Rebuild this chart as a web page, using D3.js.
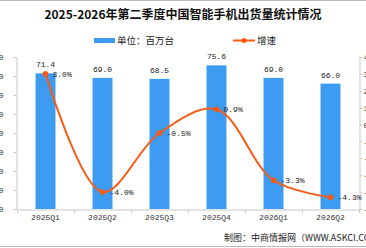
<!DOCTYPE html>
<html>
<head>
<meta charset="utf-8">
<script src="https://cdn.jsdelivr.net/npm/d3@7"></script>
<style>
  body { margin: 0; background: #fff; }
  svg { display: block; }
</style>
</head>
<body>
<svg id="chart" width="366" height="248"></svg>
<script>
const quarters = ["2025Q1", "2025Q2", "2025Q3", "2025Q4", "2026Q1", "2026Q2"];
const shipments = [71.4, 69.0, 68.5, 75.6, 69.0, 66.0];
const growth = [3.0, -4.0, -0.5, 0.9, -3.3, -4.3];
const leftTicks = [0, 10, 20, 30, 40, 50, 60, 70, 80];
const rightTicks = [-5, -4, -3, -2, -1, 0, 1, 2, 3, 4];

const svg = d3.select("#chart");
const cjk = "'Noto Sans CJK SC', sans-serif";
const mono = "'Liberation Mono', 'DejaVu Sans Mono', monospace";
const barColor = "#3d9bf1";
const lineColor = "#fa5a14";
const axisColor = "#c8c8c8";

// frame lines
svg.append("line").attr("x1", 0).attr("x2", 366).attr("y1", 0.5).attr("y2", 0.5)
  .attr("stroke", "#bbb");
svg.append("line").attr("x1", 0).attr("x2", 366).attr("y1", 246.5).attr("y2", 246.5)
  .attr("stroke", "#bbb");

svg.append("text")
  .attr("x", 183).attr("y", 19)
  .attr("text-anchor", "middle")
  .attr("font-family", cjk).attr("font-weight", "bold").attr("font-size", 12)
  .attr("fill", "#111")
  .text("2025-2026年第二季度中国智能手机出货量统计情况");

// legend
const lg = svg.append("g").attr("font-family", cjk).attr("font-size", 9.5).attr("fill", "#222");
lg.append("rect").attr("x", 94).attr("y", 38).attr("width", 21).attr("height", 5).attr("fill", barColor);
lg.append("text").attr("x", 117).attr("y", 44).text("单位：百万台");
lg.append("line").attr("x1", 233).attr("x2", 255).attr("y1", 40.5).attr("y2", 40.5)
  .attr("stroke", lineColor).attr("stroke-width", 2);
lg.append("circle").attr("cx", 244).attr("cy", 40.5).attr("r", 2.5).attr("fill", lineColor);
lg.append("text").attr("x", 257).attr("y", 44).text("增速");

const x = d3.scaleBand().domain(quarters).range([17, 359]).paddingInner(0.65).paddingOuter(0.325);
const yL = d3.scaleLinear().domain([0, 80]).range([209, 57]);
const yR = d3.scaleLinear().domain([-5, 4]).range([209, 57]);

// left axis
const axL = svg.append("g").attr("transform", "translate(16.5,0)")
  .call(d3.axisLeft(yL).tickValues(leftTicks).tickSize(3).tickPadding(10));
// right axis
const axR = svg.append("g").attr("transform", "translate(359.5,0)")
  .call(d3.axisRight(yR).tickValues(rightTicks).tickSize(3).tickPadding(1)
    .tickFormat(d => d.toFixed(1) + "%"));
// x axis
const axX = svg.append("g").attr("transform", "translate(0,209.5)")
  .call(d3.axisBottom(x).tickSize(0).tickPadding(5));

[axL, axR, axX].forEach(a => {
  a.select(".domain").attr("stroke", axisColor);
  a.selectAll(".tick line").attr("stroke", axisColor);
  a.selectAll("text").attr("font-family", mono).attr("font-size", 8).attr("fill", "#333");
});

// x boundary ticks
const bounds = quarters.map(q => x(q) - x.step() * x.paddingInner() / 2).concat([359]);
svg.append("g").selectAll("line").data(bounds).join("line")
  .attr("x1", d => Math.round(d) + 0.5).attr("x2", d => Math.round(d) + 0.5)
  .attr("y1", 209.5).attr("y2", 213).attr("stroke", axisColor);

// bars
svg.append("g").selectAll("rect").data(shipments).join("rect")
  .attr("x", (d, i) => x(quarters[i]))
  .attr("y", d => yL(d))
  .attr("width", x.bandwidth())
  .attr("height", d => yL(0) - yL(d))
  .attr("fill", barColor);

svg.append("g").selectAll("text").data(shipments).join("text")
  .attr("x", (d, i) => x(quarters[i]) + x.bandwidth() / 2)
  .attr("y", d => yL(d) - 6)
  .attr("text-anchor", "middle")
  .attr("font-family", mono).attr("font-size", 8).attr("fill", "#222")
  .text(d => d.toFixed(1));

// growth line
const cx = (d, i) => x(quarters[i]) + x.bandwidth() / 2;
const line = d3.line().x(cx).y(d => yR(d)).curve(d3.curveCatmullRom.alpha(0.5));
svg.append("path").datum(growth)
  .attr("d", line).attr("fill", "none")
  .attr("stroke", lineColor).attr("stroke-width", 2);

svg.append("g").selectAll("circle").data(growth).join("circle")
  .attr("cx", cx).attr("cy", d => yR(d)).attr("r", 2.8).attr("fill", lineColor);

svg.append("g").selectAll("text").data(growth).join("text")
  .attr("x", (d, i) => cx(d, i) + 7)
  .attr("y", d => yR(d) + 3)
  .attr("font-family", mono).attr("font-size", 8).attr("fill", "#222")
  .text(d => d.toFixed(1) + "%");

svg.append("text")
  .attr("x", 224).attr("y", 241)
  .attr("font-family", cjk).attr("font-size", 9).attr("fill", "#222")
  .text("制图：中商情报网（WWW.ASKCI.COM）");
</script>
</body>
</html>
